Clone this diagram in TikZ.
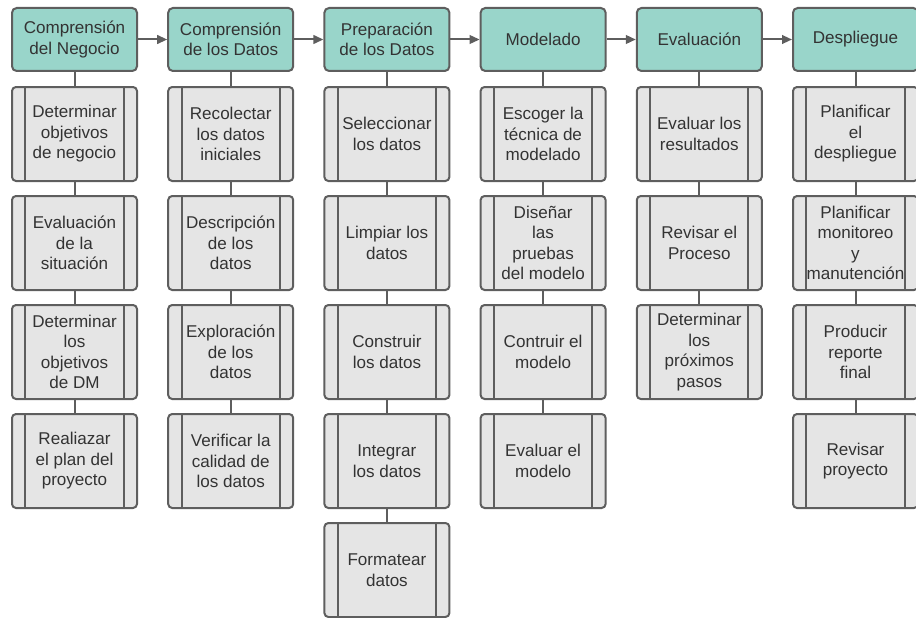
\documentclass[tikz,border=0pt]{standalone}
\usepackage{fontspec}
\setmainfont{Liberation Sans}
\usetikzlibrary{arrows.meta}
\definecolor{tealfill}{HTML}{99D5CA}
\definecolor{boxfill}{HTML}{E5E5E5}
\definecolor{strokeg}{HTML}{5E5E5E}
\definecolor{txtc}{HTML}{333333}
\begin{document}
\begin{tikzpicture}[x=0.75pt,y=-0.75pt,
  base/.style={draw=strokeg, line width=1.5pt, text=txtc, align=center, inner sep=0pt,
    font=\fontsize{12.8}{15.4}\selectfont, minimum width=93.75pt},
  head/.style={base, fill=tealfill, rounded corners=3.5pt, minimum height=47.25pt},
  proc/.style={base, fill=boxfill, rounded corners=3pt, minimum height=70.5pt,
    path picture={
      \draw[draw=strokeg, line width=1.5pt, sharp corners]
        ([xshift=10.1pt]path picture bounding box.north west) -- ([xshift=10.1pt]path picture bounding box.south west)
        ([xshift=-10.1pt]path picture bounding box.north east) -- ([xshift=-10.1pt]path picture bounding box.south east);
    }},
  link/.style={draw=strokeg, line width=1.5pt},
  arr/.style={link, -{Triangle[length=7.5pt,width=6.5pt]}}]
\useasboundingbox (0,0) rectangle (916,617);
\def\cA{74.5}\def\cB{230.7}\def\cC{386.9}\def\cD{543.1}\def\cE{699.3}\def\cF{855.5}
\def\rH{39.5}\def\rA{134}\def\rB{243}\def\rC{352}\def\rD{461}\def\rE{570}
% headers
\node[head] (h1) at (\cA,\rH) {Comprensión\\del Negocio};
\node[head] (h2) at (\cB,\rH) {Comprensión\\de los Datos};
\node[head] (h3) at (\cC,\rH) {Preparación\\de los Datos};
\node[head] (h4) at (\cD,\rH) {Modelado};
\node[head] (h5) at (\cE,\rH) {Evaluación};
\node[head] (h6) at (\cF,\rH) {Despliegue};
% column 1
\node[proc] (a1) at (\cA,\rA) {Determinar\\objetivos\\de negocio};
\node[proc] (a2) at (\cA,\rB) {Evaluación\\de la\\situación};
\node[proc] (a3) at (\cA,\rC) {Determinar\\los\\objetivos\\de DM};
\node[proc] (a4) at (\cA,\rD) {Realiazar\\el plan del\\proyecto};
% column 2
\node[proc] (b1) at (\cB,\rA) {Recolectar\\los datos\\iniciales};
\node[proc] (b2) at (\cB,\rB) {Descripción\\de los\\datos};
\node[proc] (b3) at (\cB,\rC) {Exploración\\de los\\datos};
\node[proc] (b4) at (\cB,\rD) {Verificar la\\calidad de\\los datos};
% column 3
\node[proc] (c1) at (\cC,\rA) {Seleccionar\\los datos};
\node[proc] (c2) at (\cC,\rB) {Limpiar los\\datos};
\node[proc] (c3) at (\cC,\rC) {Construir\\los datos};
\node[proc] (c4) at (\cC,\rD) {Integrar\\los datos};
\node[proc] (c5) at (\cC,\rE) {Formatear\\datos};
% column 4
\node[proc] (d1) at (\cD,\rA) {Escoger la\\técnica de\\modelado};
\node[proc] (d2) at (\cD,\rB) {Diseñar\\las\\pruebas\\del modelo};
\node[proc] (d3) at (\cD,\rC) {Contruir el\\modelo};
\node[proc] (d4) at (\cD,\rD) {Evaluar el\\modelo};
% column 5
\node[proc] (e1) at (\cE,\rA) {Evaluar los\\resultados};
\node[proc] (e2) at (\cE,\rB) {Revisar el\\Proceso};
\node[proc] (e3) at (\cE,\rC) {Determinar\\los\\próximos\\pasos};
% column 6
\node[proc] (f1) at (\cF,\rA) {Planificar\\el\\despliegue};
\node[proc] (f2) at (\cF,\rB) {Planificar\\monitoreo\\y\\manutención};
\node[proc] (f3) at (\cF,\rC) {Producir\\reporte\\final};
\node[proc] (f4) at (\cF,\rD) {Revisar\\proyecto};
% arrows between phases
\draw[arr] (h1) -- (h2);
\draw[arr] (h2) -- (h3);
\draw[arr] (h3) -- (h4);
\draw[arr] (h4) -- (h5);
\draw[arr] (h5) -- (h6);
% vertical links
\draw[link] (h1) -- (a1) (a1) -- (a2) (a2) -- (a3) (a3) -- (a4);
\draw[link] (h2) -- (b1) (b1) -- (b2) (b2) -- (b3) (b3) -- (b4);
\draw[link] (h3) -- (c1) (c1) -- (c2) (c2) -- (c3) (c3) -- (c4) (c4) -- (c5);
\draw[link] (h4) -- (d1) (d1) -- (d2) (d2) -- (d3) (d3) -- (d4);
\draw[link] (h5) -- (e1) (e1) -- (e2) (e2) -- (e3);
\draw[link] (h6) -- (f1) (f1) -- (f2) (f2) -- (f3) (f3) -- (f4);
\end{tikzpicture}
\end{document}
